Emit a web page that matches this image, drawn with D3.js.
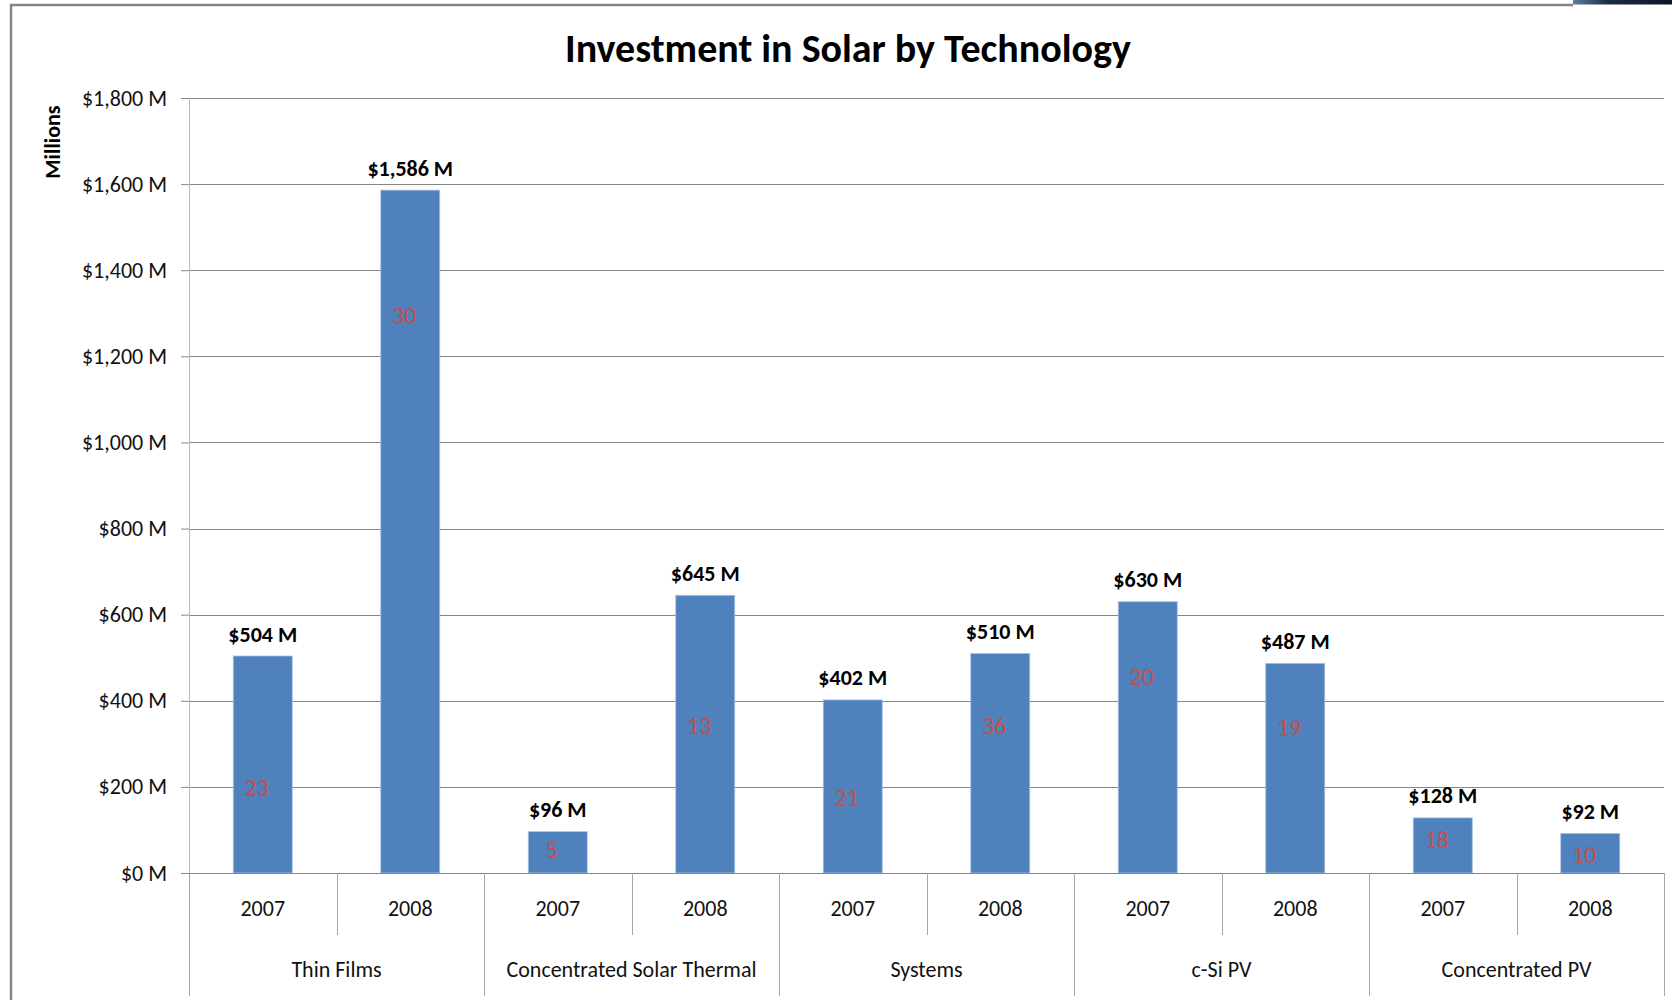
<!DOCTYPE html>
<html>
<head>
<meta charset="utf-8">
<script src="https://cdn.jsdelivr.net/npm/d3@7"></script>
<style>
  html, body { margin: 0; padding: 0; background: #fff; }
  svg { display: block; }
  text { font-family: Carlito, Calibri, Lato, "Open Sans", sans-serif; }
</style>
</head>
<body>
<svg id="chart" width="1672" height="1000"></svg>
<script>
// Technology groups and years
const technologies = ["Thin Films", "Concentrated Solar Thermal", "Systems", "c-Si PV", "Concentrated PV"];
const years = ["2007", "2008"];

// Investment ($ millions), one value per technology/year, in order
const investment = [504, 1586, 96, 645, 402, 510, 630, 487, 128, 92];

// Number of deals per technology/year
const deals = [23, 30, 5, 13, 21, 36, 20, 19, 18, 10];

// Level (in $M) at which each deal count is written inside its bar
const dealLabelLevel = [198, 1295, 55, 342, 176, 342, 456, 339, 78, 43];

// Y axis ticks ($M)
const yTicks = [0, 200, 400, 600, 800, 1000, 1200, 1400, 1600, 1800];

const rows = [];
technologies.forEach((t, ti) => years.forEach((y, yi) => {
  const i = ti * years.length + yi;
  rows.push({ key: t + "|" + y, tech: t, year: y, value: investment[i], deals: deals[i], level: dealLabelLevel[i] });
}));

const svg = d3.select("#chart");
const W = 1672, H = 1000;
const plot = { left: 189, right: 1664, top: 98, bottom: 873 };

const x = d3.scaleBand()
  .domain(rows.map(d => d.key))
  .range([plot.left, plot.right])
  .paddingInner(0.6)
  .paddingOuter(0.3);

const y = d3.scaleLinear().domain([0, 1800]).range([plot.bottom, plot.top]);

const fmt = d3.format(",");

// Surrounding frame and a sliver of a neighbouring window at top right
const grad = svg.append("defs").append("linearGradient").attr("id", "corner");
grad.append("stop").attr("offset", "0%").attr("stop-color", "#5d7d9c");
grad.append("stop").attr("offset", "35%").attr("stop-color", "#1c2c46");
grad.append("stop").attr("offset", "100%").attr("stop-color", "#0b1424");
svg.append("rect").attr("x", 1573).attr("y", 0).attr("width", W - 1573).attr("height", 4.5).attr("fill", "url(#corner)");
svg.append("path")
  .attr("d", `M11,${H} L11,5 L1573,5`)
  .attr("fill", "none").attr("stroke", "#858585").attr("stroke-width", 2.5);

// Gridlines and y axis
const yAxis = d3.axisLeft(y).tickValues(yTicks).tickSize(8).tickPadding(14)
  .tickFormat(d => "$" + fmt(d) + " M");
const yg = svg.append("g").attr("transform", `translate(${plot.left},0)`).call(yAxis);
yg.select(".domain").remove();
yg.selectAll(".tick line").attr("stroke", "#868686");
yg.selectAll(".tick text").attr("fill", "#111").style("font-size", "22px")
  .style("font-family", "Carlito, Calibri, Lato, sans-serif");
svg.append("g").selectAll("line").data(yTicks).join("line")
  .attr("x1", plot.left).attr("x2", plot.right)
  .attr("y1", d => Math.round(y(d)) + 0.5).attr("y2", d => Math.round(y(d)) + 0.5)
  .attr("stroke", "#868686").attr("stroke-width", 1);
svg.append("line").attr("x1", plot.left + 0.5).attr("x2", plot.left + 0.5)
  .attr("y1", plot.top).attr("y2", plot.bottom).attr("stroke", "#b8b8b8");

svg.append("text")
  .attr("transform", `translate(52,142) rotate(-90)`)
  .attr("text-anchor", "middle").attr("dominant-baseline", "central")
  .style("font-size", "22px").style("font-weight", "bold").text("Millions");

// Bars
svg.append("g").selectAll("rect").data(rows).join("rect")
  .attr("x", d => x(d.key)).attr("width", x.bandwidth())
  .attr("y", d => y(d.value)).attr("height", d => y(0) - y(d.value))
  .attr("fill", "#4f81bd").attr("stroke", "#a9c1e0").attr("stroke-width", 0.8);

// Value labels above bars
svg.append("g").selectAll("text").data(rows).join("text")
  .attr("x", d => x(d.key) + x.bandwidth() / 2)
  .attr("y", d => y(d.value) - 22)
  .attr("text-anchor", "middle").attr("dominant-baseline", "central")
  .style("font-size", "22px").style("font-weight", "bold").attr("fill", "#000")
  .text(d => "$" + fmt(d.value) + " M");

// Deal counts inside bars
svg.append("g").selectAll("text").data(rows).join("text")
  .attr("x", d => x(d.key) + x.bandwidth() / 2 - 6)
  .attr("y", d => y(d.level))
  .attr("text-anchor", "middle").attr("dominant-baseline", "central")
  .style("font-size", "24px").attr("fill", "#c0504d")
  .text(d => d.deals);

// Baseline
svg.append("line").attr("x1", plot.left - 8).attr("x2", plot.right)
  .attr("y1", plot.bottom + 0.5).attr("y2", plot.bottom + 0.5).attr("stroke", "#868686");

// Two-level category axis
const step = x.step();
const yearRowBottom = 935, groupRowBottom = 996;
svg.append("g").selectAll("text").data(rows).join("text")
  .attr("x", d => x(d.key) + x.bandwidth() / 2).attr("y", 908)
  .attr("text-anchor", "middle").attr("dominant-baseline", "central")
  .style("font-size", "22px").attr("fill", "#111").text(d => d.year);

const dividers = d3.range(0, rows.length + 1).map(i => ({ i, major: i % years.length === 0 }));
svg.append("g").selectAll("line").data(dividers).join("line")
  .attr("x1", d => Math.round(plot.left + d.i * step) + 0.5)
  .attr("x2", d => Math.round(plot.left + d.i * step) + 0.5)
  .attr("y1", plot.bottom).attr("y2", d => d.major ? groupRowBottom : yearRowBottom)
  .attr("stroke", "#a6a6a6");

svg.append("g").selectAll("text").data(technologies).join("text")
  .attr("x", (d, i) => plot.left + (i + 0.5) * years.length * step).attr("y", 969)
  .attr("text-anchor", "middle").attr("dominant-baseline", "central")
  .style("font-size", "22px").attr("fill", "#111").text(d => d);

// Title
svg.append("text").attr("x", 848).attr("y", 48)
  .attr("text-anchor", "middle").attr("dominant-baseline", "central")
  .style("font-size", "40px").style("font-weight", "bold").attr("fill", "#000")
  .text("Investment in Solar by Technology");
</script>
</body>
</html>
